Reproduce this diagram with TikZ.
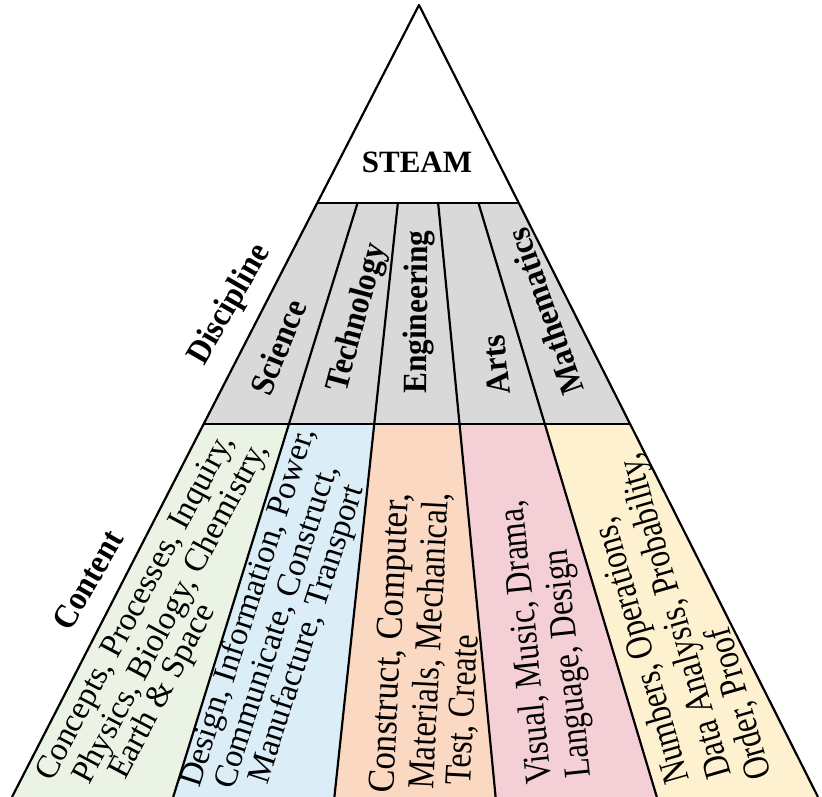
\documentclass[tikz,border=0pt]{standalone}
\usepackage{fontspec}
\setmainfont{Liberation Serif}
\newfontfamily\discfont[FakeStretch=0.92]{Liberation Serif}
\usetikzlibrary{calc}
\definecolor{discgray}{HTML}{D9D9D9}
\definecolor{cgreen}{HTML}{EBF3E5}
\definecolor{cblue}{HTML}{DBEEF8}
\definecolor{cpeach}{HTML}{FAD8C2}
\definecolor{cpink}{HTML}{F4D0D6}
\definecolor{cyellow}{HTML}{FEF1D0}
\begin{document}
\begin{tikzpicture}[x=1pt,y=1pt,
  edge/.style={line width=2.2pt, line join=round},
  disc/.style={font=\discfont\bfseries\fontsize{34}{38}\selectfont, inner sep=0pt},
  cline/.style={inner sep=0pt, anchor=base west},
  smallc/.style={cline, font=\fontsize{33}{36}\selectfont},
  bigc/.style={cline, font=\fontsize{38}{40}\selectfont},
]
\useasboundingbox (0,0) rectangle (822,797);
\coordinate (A) at (419,792);
\foreach \i in {0,...,5} {
  \coordinate (B\i) at ({12+161.2*\i},0);
}
\foreach \i in {0,...,5} {
  \coordinate (P\i) at ($(A)!0.25!(B\i)$);
  \coordinate (Q\i) at ($(A)!0.529!(B\i)$);
}
\fill[white] (A) -- (P0) -- (P5) -- cycle;
\fill[discgray] (P0) -- (P5) -- (Q5) -- (Q0) -- cycle;
\fill[cgreen] (Q0) -- (Q1) -- (B1) -- (B0) -- cycle;
\fill[cblue] (Q1) -- (Q2) -- (B2) -- (B1) -- cycle;
\fill[cpeach] (Q2) -- (Q3) -- (B3) -- (B2) -- cycle;
\fill[cpink] (Q3) -- (Q4) -- (B4) -- (B3) -- cycle;
\fill[cyellow] (Q4) -- (Q5) -- (B5) -- (B4) -- cycle;
\draw[edge] (B0) -- (A) -- (B5);
\draw[edge] (P0) -- (P5);
\draw[edge] (Q0) -- (Q5);
\foreach \i in {1,...,4} {
  \draw[edge] (P\i) -- (B\i);
}
\node[font=\bfseries\fontsize{31}{36}\selectfont, inner sep=0pt] (steam) at (417,635) {STEAM};
\node[disc, rotate=68] (sci) at (278,450) {Science};
\node[disc, rotate=75] (tech) at (358,479) {Technology};
\node[disc, rotate=89.5] (eng) at (419,485) {Engineering};
\node[disc, rotate=96] (arts) at (496,432) {Arts};
\node[disc, rotate=109.5] (math) at (545,485) {Mathematics};
\node[disc, rotate=60] (discl) at (230,492) {Discipline};
\node[disc, rotate=60] (contl) at (88,217) {Content};
% Science content
\node[smallc, rotate=62] (csci1) at (52,14) {Concepts, Processes, Inquiry,};
\node[smallc, rotate=62] (csci2) at (89,11) {Physics, Biology, Chemistry,};
\node[smallc, rotate=62] (csci3) at (125,16) {Earth \& Space};
% Technology content
\node[smallc, rotate=72] (ctech1) at (199,8) {Design, Information, Power,};
\node[smallc, rotate=72] (ctech2) at (233,6) {Communicate, Construct,};
\node[smallc, rotate=72] (ctech3) at (267,11) {Manufacture, Transport};
% Engineering content
\node[bigc, rotate=87, xscale=0.92] (ceng1) at (393,3) {Construct, Computer,};
\node[bigc, rotate=87, xscale=0.85] (ceng2) at (433,7) {Materials, Mechanical,};
\node[bigc, rotate=87, xscale=0.83] (ceng3) at (470,11) {Test, Create};
% Arts content
\node[bigc, rotate=96, xscale=0.83] (carts1) at (552,14) {Visual, Music, Drama,};
\node[bigc, rotate=96, xscale=0.83] (carts2) at (591,20) {Language, Design};
% Mathematics content
\node[bigc, rotate=106, xscale=0.82] (cmath1) at (690,17) {Numbers, Operations,};
\node[bigc, rotate=106, xscale=0.82] (cmath2) at (732,22) {Data Analysis, Probability,};
\node[bigc, rotate=106, xscale=0.82] (cmath3) at (772,21) {Order, Proof};
\end{tikzpicture}
\end{document}
